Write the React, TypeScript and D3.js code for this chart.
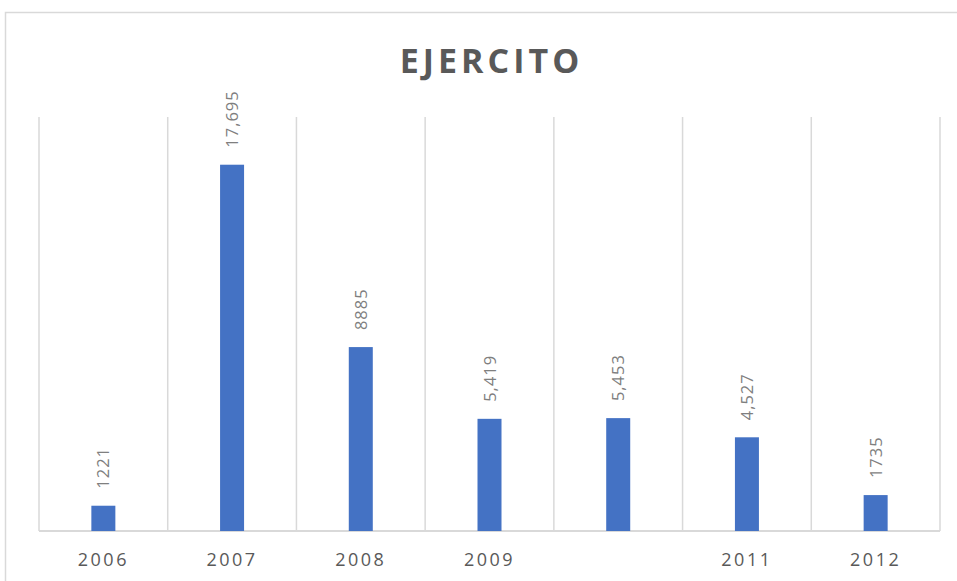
import React from "react";
import * as d3 from "d3";

const categories: string[] = ["2006", "2007", "2008", "2009", "", "2011", "2012"];
const values: number[] = [1221, 17695, 8885, 5419, 5453, 4527, 1735];
const valueLabels: string[] = ["1221", "17,695", "8885", "5,419", "5,453", "4,527", "1735"];
const title = "EJERCITO";
const yMax = 20000;

export default function App() {
  const W = 957;
  const H = 581;
  const left = 39;
  const right = 940;
  const top = 117;
  const bottom = 531;

  const x = d3
    .scaleBand<number>()
    .domain(categories.map((_, i) => i))
    .range([left, right])
    .paddingInner(0)
    .paddingOuter(0);
  const y = d3.scaleLinear().domain([0, yMax]).range([bottom, top]);
  const bw = 24;
  const font = "'Open Sans', 'Liberation Sans', sans-serif";

  const boundaries = d3.range(categories.length + 1).map((i) => left + i * x.step());

  return (
    <svg
      width={W}
      height={H}
      style={{ position: "absolute", left: 0, top: 0, background: "#fff" }}
      fontFamily={font}
    >
      <rect x={5.5} y={12.5} width={1200} height={1200} fill="#fff" stroke="#d9d9d9" strokeWidth={1.5} />
      <text
        x={(left + right) / 2 + 2}
        y={73}
        textAnchor="middle"
        fontSize={34}
        fontWeight={700}
        letterSpacing={4}
        fill="#595959"
      >
        {title}
      </text>
      {boundaries.map((bx, i) => (
        <line key={"g" + i} x1={bx} x2={bx} y1={top} y2={bottom} stroke="#d9d9d9" strokeWidth={1.5} />
      ))}
      <line x1={left} x2={right} y1={bottom} y2={bottom} stroke="#d9d9d9" strokeWidth={2} />
      {values.map((v, i) => {
        const cx = (x(i) as number) + x.bandwidth() / 2;
        return (
          <g key={"b" + i}>
            <rect x={cx - bw / 2} y={y(v)} width={bw} height={bottom - y(v)} fill="#4472C4" />
            <text
              transform={`translate(${cx + 6},${y(v) - 17}) rotate(-90)`}
              fontSize={16.5}
              letterSpacing={1}
              fill="#7f7f7f"
            >
              {valueLabels[i]}
            </text>
          </g>
        );
      })}
      {categories.map((c, i) => (
        <text
          key={"c" + i}
          x={(x(i) as number) + x.bandwidth() / 2}
          y={566}
          textAnchor="middle"
          fontSize={18}
          letterSpacing={2.5}
          fill="#595959"
        >
          {c}
        </text>
      ))}
    </svg>
  );
}
